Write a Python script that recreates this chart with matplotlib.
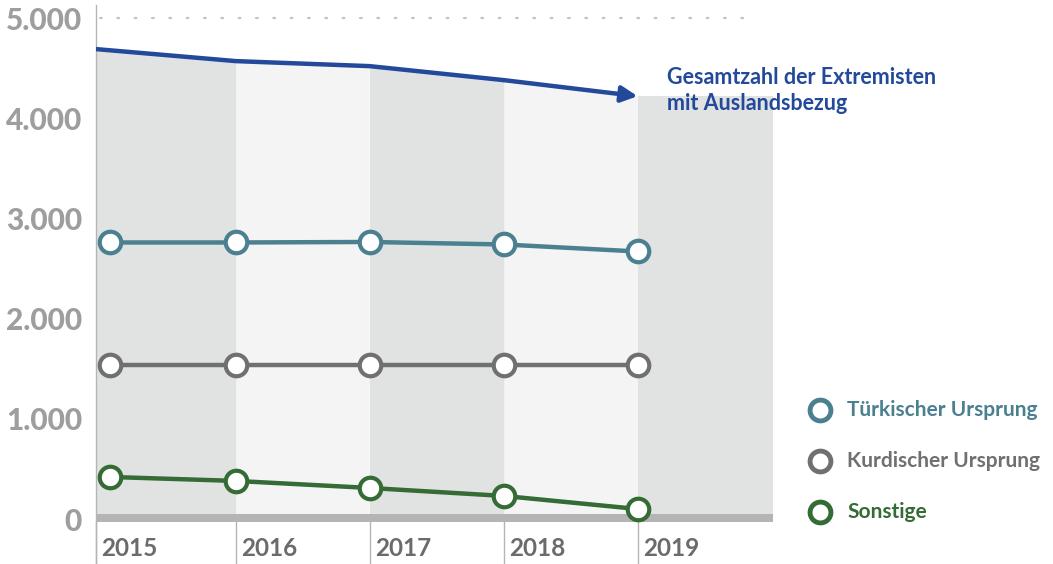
import numpy as np
import matplotlib
matplotlib.use("Agg")
import matplotlib.pyplot as plt

plt.rcParams["font.family"] = ["Lato", "DejaVu Sans"]

years = ["2015", "2016", "2017", "2018", "2019"]
gesamt = [4690, 4570, 4520, 4380, 4220]
tuerkisch = [2760, 2760, 2765, 2740, 2670]
kurdisch = [1540, 1540, 1540, 1540, 1540]
sonstige = [420, 380, 310, 230, 100]

series_names = ["Türkischer Ursprung", "Kurdischer Ursprung", "Sonstige"]
series_values = [tuerkisch, kurdisch, sonstige]
series_colors = ["#4b8090", "#707070", "#356b34"]

y_ticks = [0, 1000, 2000, 3000, 4000, 5000]

BLUE = "#23499a"
DARK_BAND = "#e1e3e2"
LIGHT_BAND = "#f4f4f4"
AXIS_GRAY = "#b5b5b5"

fig = plt.figure(figsize=(10.53, 5.64), dpi=100)
# axes spans the band area horizontally (px 96..773), full height
ax = fig.add_axes([96 / 1053, 0, (773 - 96) / 1053, 1])
ax.set_xlim(0, 5)
ax.set_ylim(-449, 5180)

n = len(years)
# band edges are not quite evenly spaced in the original layout
edges = np.array([0, 1.034, 2.02, 3.014, 4.0, 5.0])
xm = edges[:n].copy()
xm[0] = 0.1  # first marker sits a little inside the first band

# background bands under the total line
for i in range(n):
    xs = [edges[i], edges[i + 1]]
    if i < n - 1:
        top = [gesamt[i], gesamt[i + 1]]
    else:
        top = [gesamt[i], gesamt[i]]
    col = DARK_BAND if i % 2 == 0 else LIGHT_BAND
    ax.fill_between(xs, 0, top, color=col, lw=0, zorder=1)

# dotted line at 5000
ax.plot([0.03, 4.79], [5000, 5000], color="#c4c4c4", lw=1.6,
        dashes=[0.8, 7], dash_capstyle="round", zorder=1)

# bottom bar
ax.fill_between([0, 5], -30, 50, color="#b3b4b3", lw=0, zorder=2)

# year separators below bar
for i in range(n):
    ax.plot([edges[i], edges[i]], [-30, -449], color=AXIS_GRAY, lw=1,
            zorder=2, clip_on=False)
    ax.text(edges[i] + 0.04, -290, years[i], fontsize=17.5, fontweight="bold",
            color="#6b6b6b", ha="left", va="center")

# total line with arrow
ax.plot(edges[:n - 1], gesamt[:-1], color=BLUE, lw=3.2, solid_capstyle="butt",
        solid_joinstyle="round", zorder=4)
ax.annotate("", xy=(edges[n - 1], gesamt[-1]), xytext=(edges[n - 2], gesamt[-2]),
            arrowprops=dict(arrowstyle="-|>", color=BLUE, lw=3.2,
                            mutation_scale=24, shrinkA=0, shrinkB=0),
            zorder=4)
ax.text(4.22, 4275, "Gesamtzahl der Extremisten\nmit Auslandsbezug",
        fontsize=15.5, fontweight="bold", color=BLUE, ha="left", va="center",
        linespacing=1.3)

# series lines
for vals, col in zip(series_values, series_colors):
    ax.plot(xm, vals, color=col, lw=3.2, marker="o", markersize=15.5,
            markerfacecolor="white", markeredgecolor=col, markeredgewidth=3,
            zorder=5)

# legend drawn by hand
leg_y = [1088, 579, 70]
for name, col, ly in zip(series_names, series_colors, leg_y):
    ax.plot([5.35], [ly], marker="o", markersize=15, markerfacecolor="white",
            markeredgecolor=col, markeredgewidth=3.5, clip_on=False, zorder=5)
    ax.text(5.55, ly, name, fontsize=15, fontweight="bold", color=col,
            ha="left", va="center")

# y axis
ax.set_yticks(y_ticks)
ax.set_yticklabels([f"{v:,}".replace(",", ".") for v in y_ticks])
ax.tick_params(axis="y", length=0, pad=10, labelsize=21.5, labelcolor="#9e9e9e")
for lab in ax.get_yticklabels():
    lab.set_fontweight("black")
ax.set_xticks([])
for s in ["top", "right", "bottom"]:
    ax.spines[s].set_visible(False)
ax.spines["left"].set_color(AXIS_GRAY)
ax.spines["left"].set_linewidth(1)
ax.spines["left"].set_bounds(-449, 5130)
ax.patch.set_alpha(0)

fig.savefig("out.png", dpi=100)
